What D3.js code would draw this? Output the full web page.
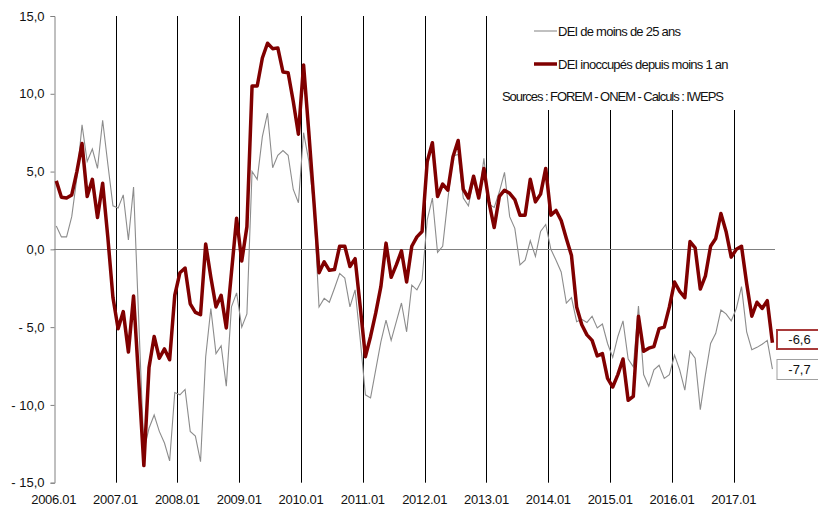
<!DOCTYPE html>
<html>
<head>
<meta charset="utf-8">
<script src="https://cdnjs.cloudflare.com/ajax/libs/d3/7.8.5/d3.min.js"></script>
<style>
  body { margin: 0; background: #fff; }
  text { font-family: "Liberation Sans", Arial, sans-serif; }
</style>
</head>
<body>
<div id="chart"></div>
<script>
// year tick labels (one every 12 months, first month 2006.01)
var yearLabels = ["2006.01", "2007.01", "2008.01", "2009.01", "2010.01", "2011.01",
                  "2012.01", "2013.01", "2014.01", "2015.01", "2016.01", "2017.01"];

var yTicks = [-15, -10, -5, 0, 5, 10, 15];

// DEI de moins de 25 ans (grey, thin)
var dei25 = [1.5, 0.8, 0.8, 2.1, 4.6, 8.0, 5.65, 6.45, 5.2, 8.3, 5.5, 2.8,
  2.65, 3.5, 0.6, 4.0, -4.5, -12.9, -11.5, -10.65, -11.7, -12.45, -13.6, -9.2,
  -9.35, -9.0, -11.7, -12.0, -13.65, -6.9, -3.8, -6.7, -6.2, -8.8, -3.7, -2.8,
  -5.0, -4.15, 5.0, 4.5, 7.25, 8.75, 5.25, 6.05, 6.35, 6.05, 3.85, 3.0,
  7.5, 5.7, 2.75, -3.7, -3.15, -3.4, -2.5, -1.55, -1.85, -3.7, -2.6, -5.8,
  -9.35, -9.55, -7.75, -5.95, -4.55, -5.85, -4.65, -3.45, -5.3, -2.3, -2.6, -1.95,
  1.9, 3.3, -0.2, 0.2, 3.2, 6.0, 6.1, 3.3, 2.8, 4.5, 3.3, 5.85,
  2.9, 2.7, 3.7, 4.95, 2.1, 1.35, -1.0, -0.7, 0.55, -0.45, 1.15, 1.6,
  0.0, -0.7, -1.45, -3.45, -3.1, -4.65, -4.5, -4.7, -4.3, -5.05, -4.8, -6.05,
  -6.95, -5.6, -4.6, -7.05, -7.55, -3.65, -8.05, -8.8, -7.75, -7.45, -8.3, -8.05,
  -6.8, -7.75, -9.05, -6.55, -7.0, -10.3, -8.05, -6.05, -5.4, -3.9, -4.15, -4.6,
  -3.8, -2.4, -5.3, -6.45, -6.3, -6.1, -5.85, -7.7];

// DEI inoccupés depuis moins 1 an (dark red, thick)
var dei1an = [4.4, 3.35, 3.3, 3.5, 5.0, 6.8, 3.4, 4.5, 2.05, 4.25, 0.8, -3.1,
  -5.1, -4.0, -6.6, -3.0, -8.4, -13.9, -7.6, -5.6, -7.0, -6.4, -7.1, -2.95,
  -1.5, -1.2, -3.5, -4.05, -4.2, 0.35, -1.8, -3.7, -2.95, -5.05, -1.5, 2.0,
  -0.75, 1.45, 10.5, 10.5, 12.3, 13.25, 12.9, 12.95, 11.4, 11.35, 9.5, 7.4,
  11.85, 7.6, 3.1, -1.5, -0.8, -1.35, -1.3, 0.2, 0.2, -1.1, -0.6, -3.7,
  -6.9, -5.6, -4.1, -2.4, 0.4, -1.8, -1.0, -0.1, -2.1, 0.2, 0.8, 1.15,
  5.65, 6.85, 3.4, 4.2, 3.8, 5.95, 7.0, 3.85, 3.3, 4.7, 3.3, 5.2,
  3.0, 1.4, 3.4, 3.8, 3.6, 3.2, 2.2, 2.2, 4.5, 3.05, 3.55, 5.2,
  2.2, 2.5, 1.85, 0.7, -0.4, -3.7, -4.85, -5.5, -5.85, -6.85, -6.7, -8.3,
  -8.85, -8.05, -7.05, -9.7, -9.45, -4.3, -6.55, -6.35, -6.25, -5.1, -5.0, -3.7,
  -2.1, -2.7, -3.1, 0.5, 0.1, -2.55, -1.7, 0.2, 0.7, 2.3, 1.15, -0.5,
  0.0, 0.2, -2.2, -4.3, -3.4, -3.8, -3.3, -6.0];

var seriesNames = ["DEI de moins de 25 ans", "DEI inoccupés depuis moins 1 an"];
var lastLabels = ["-6,6", "-7,7"];
var sourceText = "Sources : FOREM - ONEM - Calculs : IWEPS";

var width = 818, height = 509;
var nMonths = dei25.length;

var svg = d3.select("#chart")
  .append("svg")
  .attr("width", width)
  .attr("height", height);

var x = d3.scaleLinear()
  .domain([0, nMonths])
  .range([53.7, 775]);

var y = d3.scaleLinear()
  .domain([-15, 15])
  .range([482.7, 16]);

function fmt(v) {
  var s = Math.abs(v).toFixed(1).replace(".", ",");
  return v < 0 ? "- " + s : s;
}

// vertical year lines
svg.append("g")
  .selectAll("line")
  .data(yearLabels.slice(1))
  .enter().append("line")
    .attr("x1", function(d, i) { return Math.round(x((i + 1) * 12)) + 0.5; })
    .attr("x2", function(d, i) { return Math.round(x((i + 1) * 12)) + 0.5; })
    .attr("y1", y(15))
    .attr("y2", y(-15))
    .attr("stroke", "#000")
    .attr("stroke-width", 1);

// zero line
svg.append("line")
  .attr("x1", x(0))
  .attr("x2", x(nMonths))
  .attr("y1", Math.round(y(0)) + 0.5)
  .attr("y2", Math.round(y(0)) + 0.5)
  .attr("stroke", "#808080")
  .attr("stroke-width", 1);

// y axis
var yAxis = svg.append("g")
  .attr("transform", "translate(" + (Math.round(x(0)) + 0.5) + ",0)")
  .call(d3.axisLeft(y).tickValues(yTicks).tickSize(4).tickPadding(6).tickFormat(fmt));

yAxis.select(".domain").attr("stroke", "#808080");
yAxis.selectAll(".tick line").attr("stroke", "#808080");
yAxis.selectAll(".tick text")
  .attr("font-size", 13)
  .attr("font-family", "Liberation Sans, Arial, sans-serif")
  .attr("fill", "#111");

// x labels at bottom
svg.append("g")
  .selectAll("text")
  .data(yearLabels)
  .enter().append("text")
    .attr("x", function(d, i) { return x(i * 12); })
    .attr("y", 504)
    .attr("text-anchor", "middle")
    .attr("font-size", 13)
    .attr("letter-spacing", -0.3)
    .attr("fill", "#111")
    .text(function(d) { return d; });

var line = d3.line()
  .x(function(d, i) { return x(i + 0.5); })
  .y(function(d) { return y(d); });

svg.append("path")
  .datum(dei25)
  .attr("d", line)
  .attr("fill", "none")
  .attr("stroke", "#8c8c8c")
  .attr("stroke-width", 1.1);

svg.append("path")
  .datum(dei1an)
  .attr("d", line)
  .attr("fill", "none")
  .attr("stroke", "#800000")
  .attr("stroke-width", 3.5)
  .attr("stroke-linejoin", "round");

// legend box (covers grid lines)
var legend = svg.append("g");
legend.append("rect")
  .attr("x", 494).attr("y", 10)
  .attr("width", 300).attr("height", 100)
  .attr("fill", "#fff");

var legendItems = [
  { name: seriesNames[0], color: "#8c8c8c", w: 1.1, y: 31 },
  { name: seriesNames[1], color: "#800000", w: 3.5, y: 64 }
];

legendItems.forEach(function(d) {
  legend.append("line")
    .attr("x1", 534).attr("x2", 557)
    .attr("y1", d.y).attr("y2", d.y)
    .attr("stroke", d.color)
    .attr("stroke-width", d.w);
  legend.append("text")
    .attr("x", 558).attr("y", d.y)
    .attr("dy", "0.35em")
    .attr("font-size", 13)
    .attr("letter-spacing", -0.75)
    .attr("fill", "#111")
    .text(d.name);
});

legend.append("text")
  .attr("x", 502).attr("y", 96)
  .attr("dy", "0.35em")
  .attr("font-size", 13)
  .attr("letter-spacing", -1.05)
  .attr("fill", "#111")
  .text(sourceText);

// end value labels
var endBoxes = [
  { label: lastLabels[0], y: 330, h: 19, stroke: "#a83a3a", sw: 2 },
  { label: lastLabels[1], y: 359.5, h: 20, stroke: "#a0a0a0", sw: 1 }
];

endBoxes.forEach(function(d) {
  svg.append("rect")
    .attr("x", 777).attr("y", d.y)
    .attr("width", 46).attr("height", d.h)
    .attr("fill", "#fff")
    .attr("stroke", d.stroke)
    .attr("stroke-width", d.sw);
  svg.append("text")
    .attr("x", 799.5).attr("y", d.y + d.h / 2)
    .attr("dy", "0.35em")
    .attr("text-anchor", "middle")
    .attr("font-size", 13)
    .attr("fill", "#111")
    .text(d.label);
});
</script>
</body>
</html>
